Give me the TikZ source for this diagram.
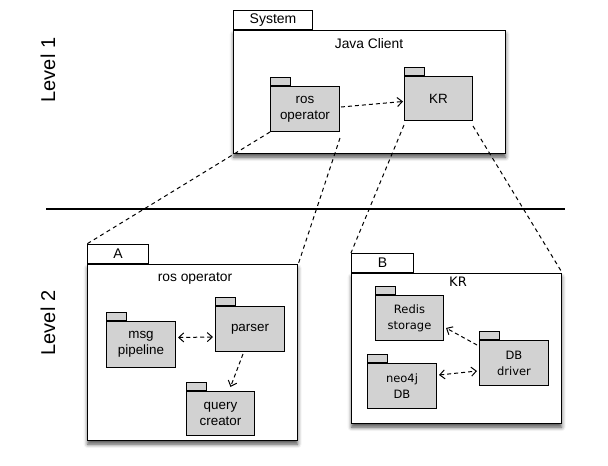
\documentclass[tikz,border=0pt]{standalone}
\usepackage{fontspec}
\setmainfont{Liberation Sans}
\newfontfamily\dvfont{DejaVu Sans}
\usetikzlibrary{arrows.meta,shadows.blur,calc}
\begin{document}
\begin{tikzpicture}[x=1pt,y=-1pt,
  outer/.style={draw=black,line width=1.3pt,fill=white,anchor=north west,inner sep=0pt,
    blur shadow={shadow xshift=0pt,shadow yshift=-3.5pt,shadow blur radius=4pt,shadow opacity=70}},
  outertab/.style={draw=black,line width=1.1pt,fill=white,anchor=south west,inner sep=0pt,font=\fontsize{14}{16}\selectfont},
  inner/.style={draw=black,line width=1pt,fill=gray!35,anchor=north west,inner sep=0pt,align=center,font=\fontsize{13.4}{16}\selectfont},
  innertab/.style={draw=black,line width=1pt,fill=gray!35,anchor=south west,inner sep=0pt,minimum width=20pt,minimum height=8pt},
  title/.style={anchor=north,font=\fontsize{13.8}{16}\selectfont,inner sep=0pt},
  dep/.style={dashed,dash pattern=on 4pt off 3pt,line width=1pt,-{Straight Barb[length=5pt,width=9pt]}},
  bidep/.style={dashed,dash pattern=on 4pt off 3pt,line width=1pt,{Straight Barb[length=5pt,width=9pt]}-{Straight Barb[length=5pt,width=9pt]}},
  link/.style={dashed,dash pattern=on 4pt off 3.5pt,line width=1pt},
  level/.style={rotate=90,font=\fontsize{20}{24}\selectfont,inner sep=0pt}
]
\useasboundingbox (0,0) rectangle (608,466);

% Level labels and separator
\node[level] (lv1) at (48,70) {Level 1};
\node[level] (lv2) at (48,323) {Level 2};
\coordinate (sepL) at (46,209);
\coordinate (sepR) at (565,209);
\draw[line width=2.6pt] (sepL) -- (sepR);

% ---------- Level 1: System ----------
\node[outer,minimum width=272pt,minimum height=123pt] (sys) at (233,30) {};
\node[outertab,minimum width=79pt,minimum height=19pt] (systab) at (sys.north west) {System};
\node[title] (systitle) at (369,38) {Java Client};

\node[inner,minimum width=69pt,minimum height=45pt] (ros) at (270,86) {ros\\operator};
\node[innertab] (rostab) at (ros.north west) {};
\node[inner,minimum width=68pt,minimum height=44pt] (kr) at (404,76) {KR};
\node[innertab] (krtab) at (kr.north west) {};
\draw[dep] ($(ros.east)+(1,-2)$) -- ($(kr.west)+(-1,3)$);

% ---------- Level 2: A ----------
\node[outer,minimum width=210pt,minimum height=176pt] (A) at (87,264) {};
\node[outertab,minimum width=61pt,minimum height=19pt] (Atab) at (A.north west) {A};
\node[title] (Atitle) at (195,272) {ros operator};

\node[inner,minimum width=69pt,minimum height=46pt] (msg) at (106,321) {msg\\pipeline};
\node[innertab] (msgtab) at (msg.north west) {};
\node[inner,minimum width=69pt,minimum height=45pt] (parser) at (215,306) {parser};
\node[innertab] (parsertab) at (parser.north west) {};
\node[inner,minimum width=68pt,minimum height=44pt] (query) at (186,391) {query\\creator};
\node[innertab] (querytab) at (query.north west) {};
\draw[bidep] ($(msg.east)+(2,-7)$) -- ($(parser.west)+(-2,8)$);
\draw[dep] ($(parser.south)+(-7,2)$) -- ($(query.north)+(10,-4)$);

% ---------- Level 2: B ----------
\node[outer,minimum width=210pt,minimum height=150pt] (B) at (351,273) {};
\node[outertab,minimum width=62pt,minimum height=19pt] (Btab) at (B.north west) {B};
\node[title,font=\dvfont\fontsize{13}{16}\selectfont] (Btitle) at (458,277) {KR};

\node[inner,font=\dvfont\fontsize{11.5}{16}\selectfont,minimum width=68pt,minimum height=45pt] (redis) at (375,295) {Redis\\storage};
\node[innertab] (redistab) at (redis.north west) {};
\node[inner,font=\dvfont\fontsize{11.5}{16}\selectfont,minimum width=69pt,minimum height=45pt] (neo) at (367,363) {neo4j\\DB};
\node[innertab] (neotab) at (neo.north west) {};
\node[inner,font=\dvfont\fontsize{11.5}{16}\selectfont,minimum width=69pt,minimum height=45pt] (drv) at (479,340) {DB\\driver};
\node[innertab] (drvtab) at (drv.north west) {};
\draw[dep] ($(drv.west)+(-2,-18)$) -- ($(redis.east)+(2,10)$);
\draw[bidep] ($(neo.east)+(2,-11)$) -- ($(drv.west)+(-2,8)$);

% ---------- Links between levels ----------
\draw[link] (ros.south west) -- (Atab.north west);
\draw[link] ($(ros.south east)+(0,6)$) -- (A.north east);
\draw[link] ($(kr.south west)+(0,4)$) -- (Btab.north west);
\draw[link] ($(kr.south east)+(0,5)$) -- (B.north east);
\end{tikzpicture}
\end{document}
